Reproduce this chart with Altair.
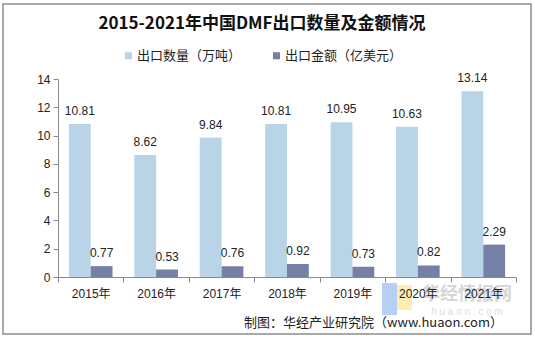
import altair as alt
import pandas as pd

years = ["2015年", "2016年", "2017年", "2018年", "2019年", "2020年", "2021年"]
series_names = ["出口数量（万吨）", "出口金额（亿美元）"]
quantity = [10.81, 8.62, 9.84, 10.81, 10.95, 10.63, 13.14]
amount = [0.77, 0.53, 0.76, 0.92, 0.73, 0.82, 2.29]
y_ticks = [0, 2, 4, 6, 8, 10, 12, 14]
colors = ["#b8d4e6", "#7680a6"]
title_text = "2015-2021年中国DMF出口数量及金额情况"
source_text = "制图：华经产业研究院（www.huaon.com）"

rows = []
for i, y in enumerate(years):
    rows.append({"year": y, "series": series_names[0], "value": quantity[i]})
    rows.append({"year": y, "series": series_names[1], "value": amount[i]})
df = pd.DataFrame(rows)

FONT = "Liberation Sans, Arial, Noto Sans CJK SC"
CJK = "Noto Sans CJK SC, Liberation Sans"

x_axis = alt.Axis(tickBand="extent", labelAngle=0, labelFontSize=12,
                  labelFont=FONT, labelColor="#222", domainColor="#8a8a8a",
                  tickColor="#8a8a8a", tickSize=5, labelPadding=6, zindex=2)
y_axis = alt.Axis(values=y_ticks, grid=False, labelOverlap=False,
                  labelFontSize=12, labelFont=FONT, labelColor="#222",
                  domainColor="#8a8a8a", tickColor="#8a8a8a", tickSize=5,
                  labelPadding=3)
x = alt.X("year:N", sort=years, title=None,
          scale=alt.Scale(paddingInner=0, paddingOuter=0), axis=x_axis)
xo = alt.XOffset("series:N", sort=series_names,
                 scale=alt.Scale(paddingInner=0, paddingOuter=0.5))
y = alt.Y("value:Q", title=None, scale=alt.Scale(domain=[0, 14]), axis=y_axis)
color = alt.Color("series:N", sort=series_names,
                  scale=alt.Scale(domain=series_names, range=colors),
                  legend=alt.Legend(title=None, orient="none", direction="horizontal",
                                    legendX=64, legendY=-30, symbolType="square",
                                    symbolSize=50, symbolStrokeWidth=0,
                                    labelFontSize=13, labelFont=CJK, labelColor="#222",
                                    labelOffset=2, columnPadding=28))

base = alt.Chart(df)
bars = base.mark_bar().encode(x=x, xOffset=xo, y=y, color=color)
labels = base.mark_text(baseline="bottom", dy=-6, fontSize=12, font=FONT,
                        color="#222").encode(
    x=x, xOffset=xo, y=y, text=alt.Text("value:Q", format=".2f"))

one = pd.DataFrame({"t": [title_text]})
title = alt.Chart(one).mark_text(fontSize=17, fontWeight="bold", font=CJK,
                                 color="#111", baseline="alphabetic").encode(
    x=alt.value(204), y=alt.value(-50), text="t:N")
src = alt.Chart(pd.DataFrame({"t": [source_text]})).mark_text(
    fontSize=13, font=CJK, color="#222", align="right", baseline="alphabetic").encode(
    x=alt.value(445), y=alt.value(248), text="t:N")
wm1 = alt.Chart(pd.DataFrame({"t": ["华经情报网"]})).mark_text(
    fontSize=18, fontWeight="bold", font=CJK, color="#c9c9c9", opacity=0.75,
    baseline="alphabetic").encode(x=alt.value(409), y=alt.value(221), text="t:N")
wm2 = alt.Chart(pd.DataFrame({"t": ["h u a o n . c o m"]})).mark_text(
    fontSize=10, font=FONT, color="#dedede",
    baseline="alphabetic").encode(x=alt.value(409), y=alt.value(236), text="t:N")
logo_b = alt.Chart(pd.DataFrame({"k": [1]})).mark_rect(color="#a9c8f2", opacity=0.85).encode(
    x=alt.value(324), x2=alt.value(339), y=alt.value(204), y2=alt.value(236))
logo_y = alt.Chart(pd.DataFrame({"k": [1]})).mark_rect(color="#fbeaa6", opacity=0.85).encode(
    x=alt.value(339), x2=alt.value(354), y=alt.value(206), y2=alt.value(231))
border = alt.Chart(pd.DataFrame({"k": [1]})).mark_rect(
    fill=None, stroke="#8c8c8c", strokeWidth=1.5).encode(
    x=alt.value(-55), x2=alt.value(473), y=alt.value(-75), y2=alt.value(255))

chart = alt.layer(bars, labels, logo_b, logo_y, wm1, wm2, title, src, border).properties(
    width=458, height=198,
    padding={"left": 58, "top": 79, "right": 19, "bottom": 62},
    autosize=alt.AutoSizeParams(type="none"),
    background="white",
).configure_view(stroke=None).configure_axis(labelOverlap=False)

chart.save("out.html", embed_options={"renderer": "svg", "actions": False})
